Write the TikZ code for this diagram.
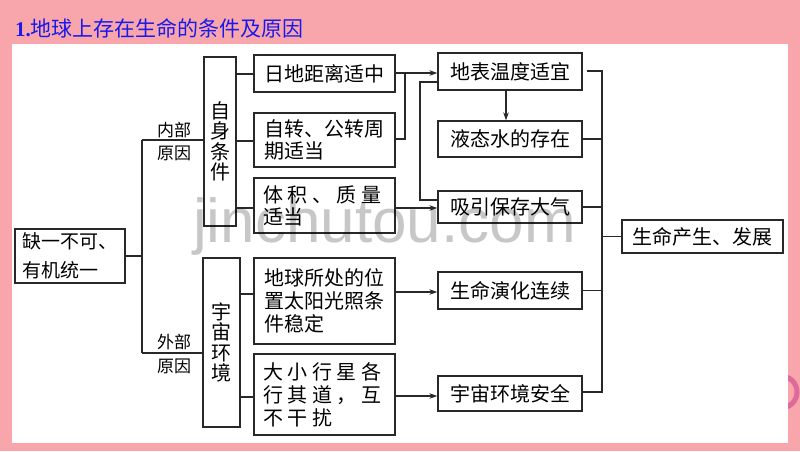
\documentclass[tikz,border=0pt]{standalone}
\usepackage{fontspec}
\setmainfont{Noto Sans CJK SC}
\newfontfamily\serifb{Liberation Serif}
\newfontfamily\wmfont{Liberation Sans}
\usetikzlibrary{arrows.meta,calc}
\definecolor{bgpink}{RGB}{248,166,172}
\definecolor{ttlblue}{RGB}{25,25,235}
\definecolor{lncol}{RGB}{40,40,40}
\definecolor{decopink}{RGB}{222,105,155}
\newcommand\cjkc[1]{\makebox[24.5pt][l]{#1}}
\begin{document}
\begin{tikzpicture}[x=1pt,y=-1pt,
 box/.style={draw=lncol,line width=1.3pt,fill=white,inner sep=0pt,font=\fontsize{20}{22}\selectfont,align=left},
 vbox/.style={box,align=center,font=\fontsize{20}{20.5}\selectfont},
 ln/.style={draw=lncol,line width=1.3pt},
 arr/.style={ln,-{Stealth[length=8pt,width=5.5pt]}},
 lbl/.style={font=\fontsize{17}{19}\selectfont,inner sep=0pt}]
\useasboundingbox (0,0) rectangle (800,451);
\fill[bgpink] (0,0) rectangle (800,451);
\draw[decopink,line width=5pt] (781,392) circle (16);
\fill[white] (12,44) rectangle (788,443);
% title
\node[anchor=west,inner sep=0pt,text=ttlblue] (title) at (15,28)
 {{\serifb\bfseries\fontsize{21}{21}\selectfont 1.}{\fontsize{21}{21}\selectfont 地球上存在生命的条件及原因}};
% left box
\node[box,minimum width=110pt,minimum height=54pt,font=\fontsize{19}{29}\selectfont] (lb) at (70,256) {缺一不可、\\有机统一};
% vertical boxes
\node[vbox,minimum width=32pt,minimum height=169pt] (zs) at (220,141.5) {自\\身\\条\\件};
\node[vbox,minimum width=37pt,minimum height=169pt] (yz) at (221.5,342.5) {宇\\宙\\环\\境};
% column 2
\node[box,minimum width=141pt,minimum height=37pt] (b1) at (324.5,73.5) {日地距离适中};
\node[box,minimum width=141pt,minimum height=54pt] (b2) at (324.5,140) {自转、公转周\\期适当};
\node[box,minimum width=141pt,minimum height=55pt] (b3) at (324.5,205.5) {\cjkc{体}\cjkc{积}\cjkc{、}\cjkc{质}\cjkc{量}\\适当};
\node[box,minimum width=141pt,minimum height=86pt,font=\fontsize{20}{23}\selectfont] (b4) at (324.5,301) {地球所处的位\\置太阳光照条\\件稳定};
\node[box,minimum width=141pt,minimum height=81pt,font=\fontsize{20}{23}\selectfont] (b5) at (324.5,394.5) {\cjkc{大}\cjkc{小}\cjkc{行}\cjkc{星}\cjkc{各}\\\cjkc{行}\cjkc{其}\cjkc{道}\cjkc{，}\cjkc{互}\\\cjkc{不}\cjkc{干}\cjkc{扰}\hspace{49pt}};
% column 3
\node[box,minimum width=144pt,minimum height=37pt] (c1) at (510,71.5) {地表温度适宜};
\node[box,minimum width=144pt,minimum height=36pt] (c2) at (510,139) {液态水的存在};
\node[box,minimum width=144pt,minimum height=32pt] (c3) at (510,207) {吸引保存大气};
\node[box,minimum width=144pt,minimum height=37pt] (c4) at (510,290.5) {生命演化连续};
\node[box,minimum width=144pt,minimum height=35pt] (c5) at (510,393.5) {宇宙环境安全};
% final
\node[box,minimum width=161pt,minimum height=33pt] (fin) at (702.5,236.5) {生命产生、发展};
% labels
\node[lbl] (l1) at (174,130) {内部};
\node[lbl] (l2) at (174,153) {原因};
\node[lbl] (l3) at (174,342) {外部};
\node[lbl] (l4) at (174,366) {原因};
% coordinates
\coordinate (bxL) at (142,0);
\coordinate (pin) at (142,140);
\coordinate (pout) at (142,353);
\coordinate (k1) at (0,74);
\coordinate (k2) at (0,141);
\coordinate (k3) at (0,208);
\coordinate (k4) at (0,294);
\coordinate (k5) at (0,397);
\coordinate (ja) at (405,73);
\coordinate (jb) at (405,139);
\coordinate (la) at (420,82);
\coordinate (lz) at (420,200);
\coordinate (vx) at (506,0);
\coordinate (m4) at (0,292);
\coordinate (m5) at (0,396);
\coordinate (r1) at (602,71);
\coordinate (r5) at (602,392);
% left connectors
\draw[ln] (lb.east) -- (lb.east -| bxL);
\draw[ln] (pin) -- (pout);
\draw[ln] (pin) -- (pin -| zs.west);
\draw[ln] (pout) -- (pout -| yz.west);
\draw[ln] (zs.east |- k1) -- (b1.west |- k1);
\draw[ln] (zs.east |- k2) -- (b2.west |- k2);
\draw[ln] (zs.east |- k3) -- (b3.west |- k3);
\draw[ln] (yz.east |- k4) -- (b4.west |- k4);
\draw[ln] (yz.east |- k5) -- (b5.west |- k5);
% middle connectors
\draw[ln] (b1.east |- ja) -- (ja) -- (jb) -- (b2.east |- jb);
\draw[arr] (ja) -- (c1.west |- ja);
\draw[ln] (c1.west |- la) -- (la) -- (lz) -- (c3.west |- lz);
\draw[arr] (b3.east |- k3) -- (c3.west |- k3);
\draw[arr] (c1.south -| vx) -- (c2.north -| vx);
\draw[arr] (b4.east |- m4) -- (c4.west |- m4);
\draw[arr] (b5.east |- m5) -- (c5.west |- m5);
% right bus
\draw[ln] ([xshift=4pt]c1.east |- r1) -- (r1) -- (r5) -- (c5.east |- r5);
\draw[ln] (c2.east) -- (c2.east -| r1);
\draw[ln] (c3.east) -- (c3.east -| r1);
\draw[ln] (c4.east) -- (c4.east -| r1);
\draw[ln] (fin.west -| r1) -- (fin.west);
% watermark
\node[anchor=base west,inner sep=0pt,font=\wmfont\fontsize{62}{62}\selectfont,text=black,text opacity=0.22] (wm) at (193,242) {jinchutou.com};
\end{tikzpicture}
\end{document}
